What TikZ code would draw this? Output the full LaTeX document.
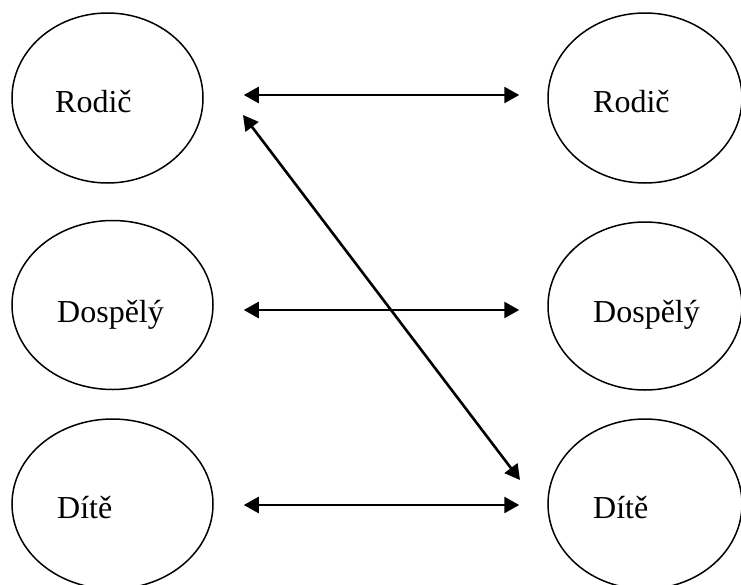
\documentclass[tikz,border=0pt]{standalone}
\usepackage{fontspec}
\setmainfont{Liberation Serif}
\usetikzlibrary{shapes.geometric,arrows.meta}
\begin{document}
\begin{tikzpicture}[x=1pt,y=-1pt,
  oval/.style={draw,ellipse,line width=1.5pt,inner sep=0pt},
  lbl/.style={anchor=base west,inner sep=0pt,font=\fontsize{32}{38}\selectfont},
  link/.style={line width=2.6pt,{Triangle[length=15pt,width=16pt]}-{Triangle[length=15pt,width=16pt]}}]
\useasboundingbox (0,0) rectangle (741,584);
\node[oval,minimum width=191pt,minimum height=170pt] (l1) at (107.5,98) {};
\node[oval,minimum width=201pt,minimum height=169pt] (l2) at (112.5,305) {};
\node[oval,minimum width=201pt,minimum height=170pt] (l3) at (112.5,504) {};
\node[oval,minimum width=194pt,minimum height=170pt] (r1) at (645,98) {};
\node[oval,minimum width=194pt,minimum height=168pt] (r2) at (645,306) {};
\node[oval,minimum width=194pt,minimum height=170pt] (r3) at (645,504) {};
\node[lbl] (tl1) at (55,112) {Rodič};
\node[lbl] (tl2) at (57,322) {Dospělý};
\node[lbl] (tl3) at (57,518) {Dítě};
\node[lbl] (tr1) at (593,112) {Rodič};
\node[lbl] (tr2) at (593,322) {Dospělý};
\node[lbl] (tr3) at (593,518) {Dítě};
\coordinate (d1) at (243,115);
\coordinate (d2) at (520,480);
\draw[link,shorten <=40pt,shorten >=28pt] ([yshift=3pt]l1.east) -- ([yshift=3pt]r1.west);
\draw[link,shorten <=30pt,shorten >=28pt] ([yshift=-5pt]l2.east) -- ([yshift=-4pt]r2.west);
\draw[link,shorten <=30pt,shorten >=28pt] ([yshift=-1pt]l3.east) -- ([yshift=-1pt]r3.west);
\draw[link] (d1) -- (d2);
\end{tikzpicture}
\end{document}
